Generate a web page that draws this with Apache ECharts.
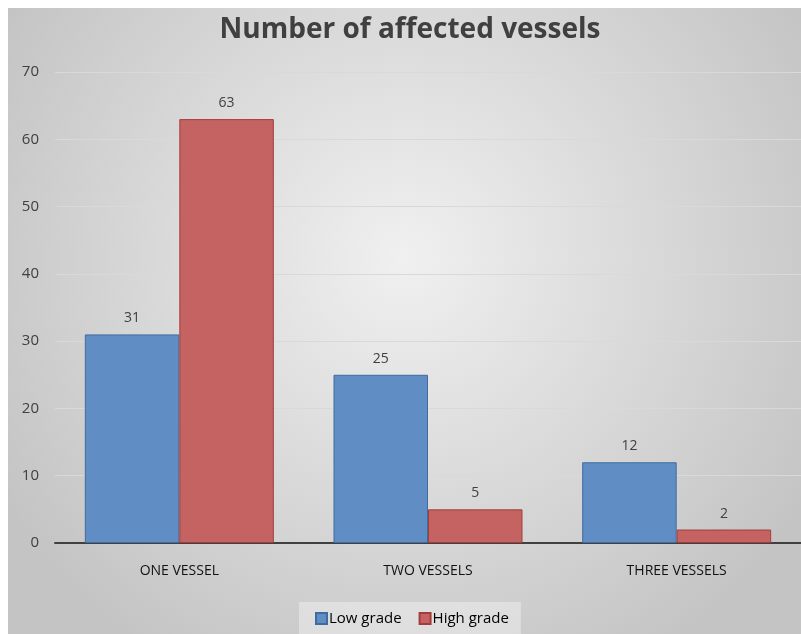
<!DOCTYPE html>
<html>
<head>
<meta charset="utf-8">
<script src="https://cdn.jsdelivr.net/npm/echarts@6/dist/echarts.min.js"></script>
<style>
  html, body { margin: 0; padding: 0; background: #ffffff; }
  #chart { position: absolute; left: 8px; top: 8px; width: 793px; height: 626px; }
</style>
</head>
<body>
<div id="chart"></div>
<script>
// Vessel involvement by lesion grade
const categories = ['ONE VESSEL', 'TWO VESSELS', 'THREE VESSELS'];
const lowGrade = [31, 25, 12];
const highGrade = [63, 5, 2];
const seriesNames = ['Low grade', 'High grade'];

const chart = echarts.init(document.getElementById('chart'), null, { renderer: 'canvas' });

const textColor = '#404040';
const fontFamily = '"Open Sans", "Noto Sans", sans-serif';

const labelStyle = {
  show: true,
  position: 'top',
  distance: 9,
  color: textColor,
  fontSize: 14,
  fontFamily: fontFamily
};

chart.setOption({
  animation: false,
  graphic: [{
    type: 'rect',
    z: -10,
    silent: true,
    shape: { x: 0, y: 0, width: 793, height: 626 },
    style: {
      fill: {
        type: 'radial', x: 0.5, y: 0.4, r: 0.75,
        colorStops: [
          { offset: 0, color: '#f0f0f0' },
          { offset: 1, color: '#c4c4c4' }
        ]
      }
    }
  }],
  title: {
    text: 'Number of affected vessels',
    left: 397,
    textAlign: 'center',
    top: 3,
    textStyle: {
      color: textColor,
      fontSize: 28,
      fontWeight: 'bold',
      fontFamily: fontFamily
    }
  },
  legend: {
    bottom: 0,
    left: 291,
    data: seriesNames,
    icon: 'rect',
    itemWidth: 11,
    itemHeight: 11,
    itemGap: 17,
    padding: [9, 12, 8, 16],
    backgroundColor: 'rgba(255,255,255,0.35)',
    textStyle: { color: '#000000', fontSize: 15, fontFamily: fontFamily, padding: [0, 0, 0, -3] }
  },
  grid: {
    left: 47,
    right: 0,
    top: 64,
    bottom: 91,
    containLabel: false
  },
  xAxis: {
    type: 'category',
    data: categories,
    axisLine: { lineStyle: { color: '#404040', width: 2 } },
    axisTick: { show: false },
    axisLabel: {
      color: '#111111',
      fontSize: 14,
      fontFamily: fontFamily,
      margin: 21
    }
  },
  yAxis: {
    type: 'value',
    min: 0,
    max: 70,
    interval: 10,
    axisLine: { show: false },
    axisTick: { show: false },
    axisLabel: {
      color: textColor,
      fontSize: 15,
      fontFamily: fontFamily,
      margin: 16
    },
    splitLine: { lineStyle: { color: '#d9d9d9', width: 1 } }
  },
  series: [
    {
      name: seriesNames[0],
      type: 'bar',
      data: lowGrade,
      barGap: '0%',
      barCategoryGap: '24%',
      itemStyle: { color: '#608ec4', borderColor: '#3e6c9f', borderWidth: 1 },
      label: labelStyle
    },
    {
      name: seriesNames[1],
      type: 'bar',
      data: highGrade,
      itemStyle: { color: '#c46361', borderColor: '#a33d3b', borderWidth: 1 },
      label: labelStyle
    }
  ]
});
</script>
</body>
</html>
